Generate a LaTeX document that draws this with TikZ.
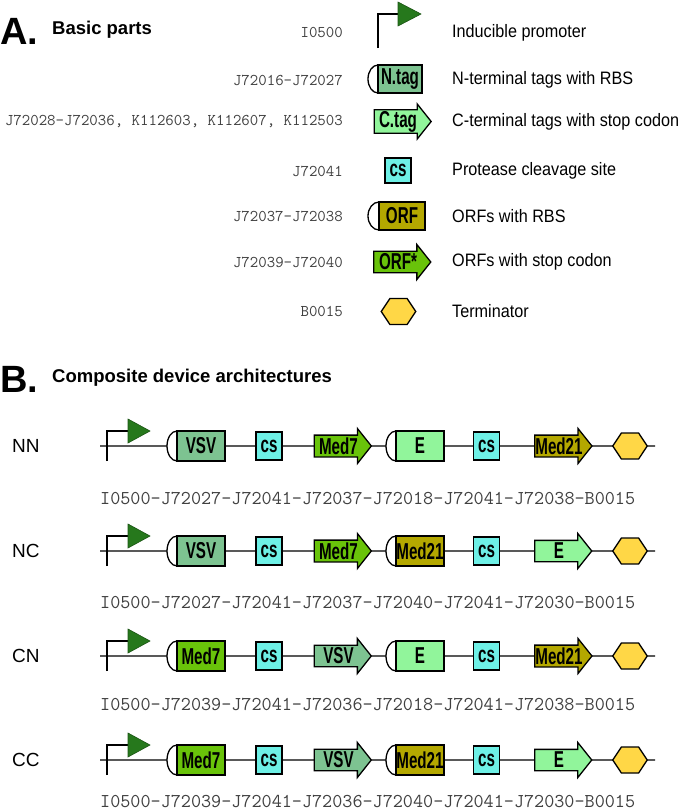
\documentclass[tikz,border=0pt]{standalone}
\usepackage{fontspec}
\setmainfont{Liberation Sans}
\newfontfamily\partfont[FakeStretch=0.66]{Liberation Sans}
\newfontfamily\descfont[FakeStretch=0.9]{Liberation Sans}
\usetikzlibrary{positioning,shapes.geometric,shapes.arrows}

\definecolor{flaggreen}{RGB}{38,120,28}
\definecolor{ntaggreen}{RGB}{125,195,145}
\definecolor{ctaggreen}{RGB}{145,245,155}
\definecolor{cscyan}{RGB}{110,240,230}
\definecolor{orfolive}{RGB}{180,168,0}
\definecolor{orfgreen}{RGB}{105,195,10}
\definecolor{termyellow}{RGB}{255,215,70}

\begin{document}
\begin{tikzpicture}[x=1pt,y=1pt,>=latex]
    \tikzset{part/.style= {draw, line width=1.3pt, inner sep=0pt, outer sep=0pt, font={\partfont\bfseries\fontsize{23}{23}\selectfont}} }
    \tikzset{nbox/.style= {part, rectangle, minimum width=48pt, minimum height=30pt} }
    \tikzset{site/.style= {part, rectangle, fill=cscyan, minimum width=26pt, minimum height=28pt} }
    \tikzset{carrow/.style= {part, single arrow, single arrow head extend=5.5pt, single arrow tip angle=103, minimum height=57pt, minimum width=35pt} }
    \tikzset{term/.style= {part, regular polygon, regular polygon sides=6, fill=termyellow, minimum size=30pt, xscale=1.15} }
    \tikzset{rbs/.style= {line width=1.3pt} }
    \tikzset{promoter/.style= {line width=2pt} }
    \tikzset{flag/.style= {fill=flaggreen, draw=flaggreen!70!black, line width=0.6pt} }
    \tikzset{backbone/.style= {line width=1.3pt} }
    \tikzset{code/.style= {font={\ttfamily\fontsize{16.4}{16.4}\selectfont}, text=black!75, anchor=east, inner sep=0pt} }
    \tikzset{bcode/.style= {font={\ttfamily\fontsize{19.6}{19.6}\selectfont}, text=black!75, anchor=west, inner sep=0pt} }
    \tikzset{desc/.style= {font={\descfont\fontsize{18}{18}\selectfont}, anchor=west, inner sep=0pt} }
    \tikzset{head/.style= {font={\bfseries\fontsize{18.5}{18.5}\selectfont}, anchor=west, inner sep=0pt} }
    \tikzset{panel/.style= {font={\bfseries\fontsize{38}{38}\selectfont}, anchor=west, inner sep=0pt} }
    \tikzset{arch/.style= {font={\fontsize{19}{19}\selectfont}, anchor=west, inner sep=0pt} }

    \useasboundingbox (0,0) rectangle (685,-812);

    % A. basic parts
    \node[panel] (a-mark) at (0,-31) {A.};
    \node[head] (a-head) at (52,-30) {Basic parts};

    \node[code] (prom-code) at (343,-32) {I0500};
    \node[code] (ntag-code) at (343,-80) {J72016-J72027};
    \node[code] (ctag-code) at (343,-122) {J72028-J72036, K112603, K112607, K112503};
    \node[code] (cs-code) at (343,-171) {J72041};
    \node[code] (orf-code) at (343,-216) {J72037-J72038};
    \node[code] (orfs-code) at (343,-262) {J72039-J72040};
    \node[code] (term-code) at (343,-311) {B0015};

    \coordinate (prom) at (378,-48);
    \draw[promoter] (prom) -- ++(0,34) -- ++(20,0);
    \draw[flag] (398,-2) -- (398,-26) -- (421,-14) -- cycle;
    \node[nbox, fill=ntaggreen, minimum width=44pt, minimum height=28pt] (ntag) at (400,-79) {N.tag};
    \draw[rbs] (ntag.north west) arc[start angle=90, end angle=270, x radius=10pt, y radius=14pt];
    \node[carrow, fill=ctaggreen] (ctag) at (398,-121.5) {C.tag};
    \node[site, minimum height=25pt] (cs) at (398,-170.5) {cs};
    \node[nbox, fill=orfolive, minimum width=46pt, minimum height=28pt] (orf) at (402,-216) {ORF};
    \draw[rbs] (orf.north west) arc[start angle=90, end angle=270, x radius=11pt, y radius=14pt];
    \node[carrow, fill=orfgreen] (orfs) at (398,-262) {ORF*};
    \node[term] (term) at (398.5,-311.5) {};

    \node[desc] (prom-desc) at (452,-33) {Inducible promoter};
    \node[desc] (ntag-desc) at (452,-80) {N-terminal tags with RBS};
    \node[desc] (ctag-desc) at (452,-122) {C-terminal tags with stop codon};
    \node[desc] (cs-desc) at (452,-171) {Protease cleavage site};
    \node[desc] (orf-desc) at (452,-216) {ORFs with RBS};
    \node[desc] (orfs-desc) at (452,-262) {ORFs with stop codon};
    \node[desc] (term-desc) at (452,-311) {Terminator};

    % B. composite devices
    \node[panel] (b-mark) at (0,-379) {B.};
    \node[head] (b-head) at (52,-378) {Composite device architectures};

    % NN
    \node[arch] (nn) at (12,-446) {NN};
    \coordinate (nn-start) at (100,-446);
    \coordinate (nn-end) at (655,-446);
    \node[nbox, fill=ntaggreen] (nn-vsv) at (201,-446) {VSV};
    \node[site] (nn-cs1) at (269,-446) {cs};
    \node[carrow, fill=orfgreen] (nn-med7) at (338.5,-446) {Med7};
    \node[nbox, fill=ctaggreen] (nn-e) at (420,-446) {E};
    \node[site] (nn-cs2) at (486.5,-446) {cs};
    \node[carrow, fill=orfolive] (nn-med21) at (559,-446) {Med21};
    \node[term] (nn-term) at (630,-446) {};
    \coordinate (nn-vsv-rbs) at ([xshift=-10pt]nn-vsv.west);
    \coordinate (nn-e-rbs) at ([xshift=-10pt]nn-e.west);
    \draw[rbs] (nn-vsv.north west) arc[start angle=90, end angle=270, x radius=10pt, y radius=15pt];
    \draw[rbs] (nn-e.north west) arc[start angle=90, end angle=270, x radius=10pt, y radius=15pt];
    \draw[backbone] (nn-start) -- (nn-vsv-rbs) (nn-vsv) -- (nn-cs1) -- (nn-med7) -- (nn-e-rbs)
        (nn-e) -- (nn-cs2) -- (nn-med21) -- (nn-term) -- (nn-end);
    \draw[promoter] (107,-461) -- (107,-431) -- (128,-431);
    \draw[flag] (128,-419) -- (128,-443) -- (150,-431) -- cycle;
    \node[bcode] (nn-code) at (100,-498) {I0500-J72027-J72041-J72037-J72018-J72041-J72038-B0015};

    % NC
    \node[arch] (nc) at (12,-551) {NC};
    \coordinate (nc-start) at (100,-551);
    \coordinate (nc-end) at (655,-551);
    \node[nbox, fill=ntaggreen] (nc-vsv) at (201,-551) {VSV};
    \node[site] (nc-cs1) at (269,-551) {cs};
    \node[carrow, fill=orfgreen] (nc-med7) at (338.5,-551) {Med7};
    \node[nbox, fill=orfolive] (nc-med21) at (420,-551) {Med21};
    \node[site] (nc-cs2) at (486.5,-551) {cs};
    \node[carrow, fill=ctaggreen] (nc-e) at (559,-551) {E};
    \node[term] (nc-term) at (630,-551) {};
    \coordinate (nc-vsv-rbs) at ([xshift=-10pt]nc-vsv.west);
    \coordinate (nc-med21-rbs) at ([xshift=-10pt]nc-med21.west);
    \draw[rbs] (nc-vsv.north west) arc[start angle=90, end angle=270, x radius=10pt, y radius=15pt];
    \draw[rbs] (nc-med21.north west) arc[start angle=90, end angle=270, x radius=10pt, y radius=15pt];
    \draw[backbone] (nc-start) -- (nc-vsv-rbs) (nc-vsv) -- (nc-cs1) -- (nc-med7) -- (nc-med21-rbs)
        (nc-med21) -- (nc-cs2) -- (nc-e) -- (nc-term) -- (nc-end);
    \draw[promoter] (107,-566) -- (107,-536) -- (128,-536);
    \draw[flag] (128,-524) -- (128,-548) -- (150,-536) -- cycle;
    \node[bcode] (nc-code) at (100,-602) {I0500-J72027-J72041-J72037-J72040-J72041-J72030-B0015};

    % CN
    \node[arch] (cn) at (12,-656) {CN};
    \coordinate (cn-start) at (100,-656);
    \coordinate (cn-end) at (655,-656);
    \node[nbox, fill=orfgreen] (cn-med7) at (201,-656) {Med7};
    \node[site] (cn-cs1) at (269,-656) {cs};
    \node[carrow, fill=ntaggreen] (cn-vsv) at (338.5,-656) {VSV};
    \node[nbox, fill=ctaggreen] (cn-e) at (420,-656) {E};
    \node[site] (cn-cs2) at (486.5,-656) {cs};
    \node[carrow, fill=orfolive] (cn-med21) at (559,-656) {Med21};
    \node[term] (cn-term) at (630,-656) {};
    \coordinate (cn-med7-rbs) at ([xshift=-10pt]cn-med7.west);
    \coordinate (cn-e-rbs) at ([xshift=-10pt]cn-e.west);
    \draw[rbs] (cn-med7.north west) arc[start angle=90, end angle=270, x radius=10pt, y radius=15pt];
    \draw[rbs] (cn-e.north west) arc[start angle=90, end angle=270, x radius=10pt, y radius=15pt];
    \draw[backbone] (cn-start) -- (cn-med7-rbs) (cn-med7) -- (cn-cs1) -- (cn-vsv) -- (cn-e-rbs)
        (cn-e) -- (cn-cs2) -- (cn-med21) -- (cn-term) -- (cn-end);
    \draw[promoter] (107,-671) -- (107,-641) -- (128,-641);
    \draw[flag] (128,-629) -- (128,-653) -- (150,-641) -- cycle;
    \node[bcode] (cn-code) at (100,-704) {I0500-J72039-J72041-J72036-J72018-J72041-J72038-B0015};

    % CC
    \node[arch] (cc) at (12,-760) {CC};
    \coordinate (cc-start) at (100,-760);
    \coordinate (cc-end) at (655,-760);
    \node[nbox, fill=orfgreen] (cc-med7) at (201,-760) {Med7};
    \node[site] (cc-cs1) at (269,-760) {cs};
    \node[carrow, fill=ntaggreen] (cc-vsv) at (338.5,-760) {VSV};
    \node[nbox, fill=orfolive] (cc-med21) at (420,-760) {Med21};
    \node[site] (cc-cs2) at (486.5,-760) {cs};
    \node[carrow, fill=ctaggreen] (cc-e) at (559,-760) {E};
    \node[term] (cc-term) at (630,-760) {};
    \coordinate (cc-med7-rbs) at ([xshift=-10pt]cc-med7.west);
    \coordinate (cc-med21-rbs) at ([xshift=-10pt]cc-med21.west);
    \draw[rbs] (cc-med7.north west) arc[start angle=90, end angle=270, x radius=10pt, y radius=15pt];
    \draw[rbs] (cc-med21.north west) arc[start angle=90, end angle=270, x radius=10pt, y radius=15pt];
    \draw[backbone] (cc-start) -- (cc-med7-rbs) (cc-med7) -- (cc-cs1) -- (cc-vsv) -- (cc-med21-rbs)
        (cc-med21) -- (cc-cs2) -- (cc-e) -- (cc-term) -- (cc-end);
    \draw[promoter] (107,-775) -- (107,-745) -- (128,-745);
    \draw[flag] (128,-733) -- (128,-757) -- (150,-745) -- cycle;
    \node[bcode] (cc-code) at (100,-801) {I0500-J72039-J72041-J72036-J72040-J72041-J72030-B0015};
\end{tikzpicture}
\end{document}
